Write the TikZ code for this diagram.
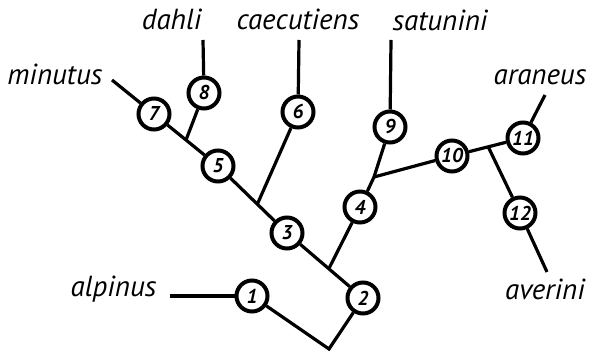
\documentclass[tikz,border=0pt]{standalone}
\usepackage{fontspec}
\setmainfont{PT Sans}
\usepackage{tikz}
\usetikzlibrary{calc}

\begin{document}
\begin{tikzpicture}[x=0.5pt,y=-0.5pt,line width=1.6pt,
    anc/.style={circle,draw,line width=2pt,minimum size=15.5pt,inner sep=0pt,
      font=\bfseries\itshape\fontsize{10}{10}\selectfont},
    taxon/.style={inner sep=0pt,font=\itshape\fontsize{14.5}{16}\selectfont}]
  \useasboundingbox (0,0) rectangle (593,351);
  % ancestral nodes
  \node[anc] (n1) at (252,296) {1};
  \node[anc] (n2) at (363,298) {2};
  \node[anc] (n3) at (287,233) {3};
  \node[anc] (n4) at (360,207) {4};
  \node[anc] (n5) at (218,166) {5};
  \node[anc] (n6) at (298,112) {6};
  \node[anc] (n7) at (154,114) {7};
  \node[anc] (n8) at (204,93) {8};
  \node[anc] (n9) at (390,127) {9};
  \node[anc] (n10) at (452,156) {10};
  \node[anc] (n11) at (523,138) {11};
  \node[anc] (n12) at (520,213) {12};
  % branching points
  \coordinate (root) at (329,349);
  \coordinate (j23) at ($(n3)!0.55!(n2)$);
  \coordinate (j35) at ($(n5)!0.57!(n3)$);
  \coordinate (j57) at ($(n7)!0.5!(n5)$);
  \coordinate (j4) at (374,177);
  \coordinate (j10) at ($(n10)!0.51!(n11)$);
  % tips
  \coordinate (e1) at (170,296);
  \coordinate (e6) at (299,40);
  \coordinate (e7) at (112,80);
  \coordinate (e8) at (203,40);
  \coordinate (e9) at (391,40);
  \coordinate (e11) at (545,95);
  \coordinate (e12) at (547,272);
  % species
  \node[taxon,anchor=base east] (alpinus) at (158,297) {alpinus};
  \node[taxon,anchor=base east] (minutus) at (104,85) {minutus};
  \node[taxon,anchor=base east] (dahli) at (203,30) {dahli};
  \node[taxon,anchor=base] (caecutiens) at (298,30) {caecutiens};
  \node[taxon,anchor=base west] (satunini) at (391,31) {satunini};
  \node[taxon,anchor=base] (araneus) at (540,85) {araneus};
  \node[taxon,anchor=base] (averini) at (545,300) {averini};
  % branches
  \draw (e1) -- (n1);
  \draw (n1) -- (root) -- (n2);
  \draw (n2) -- (n3);
  \draw (j23) -- (n4);
  \draw (n3) -- (n5);
  \draw (j35) -- (n6) -- (e6);
  \draw (n5) -- (n7) -- (e7);
  \draw (j57) -- (n8) -- (e8);
  \draw (n4) -- (j4) -- (n9) -- (e9);
  \draw (j4) -- (n10) -- (n11) -- (e11);
  \draw (j10) -- (n12) -- (e12);
\end{tikzpicture}
\end{document}
